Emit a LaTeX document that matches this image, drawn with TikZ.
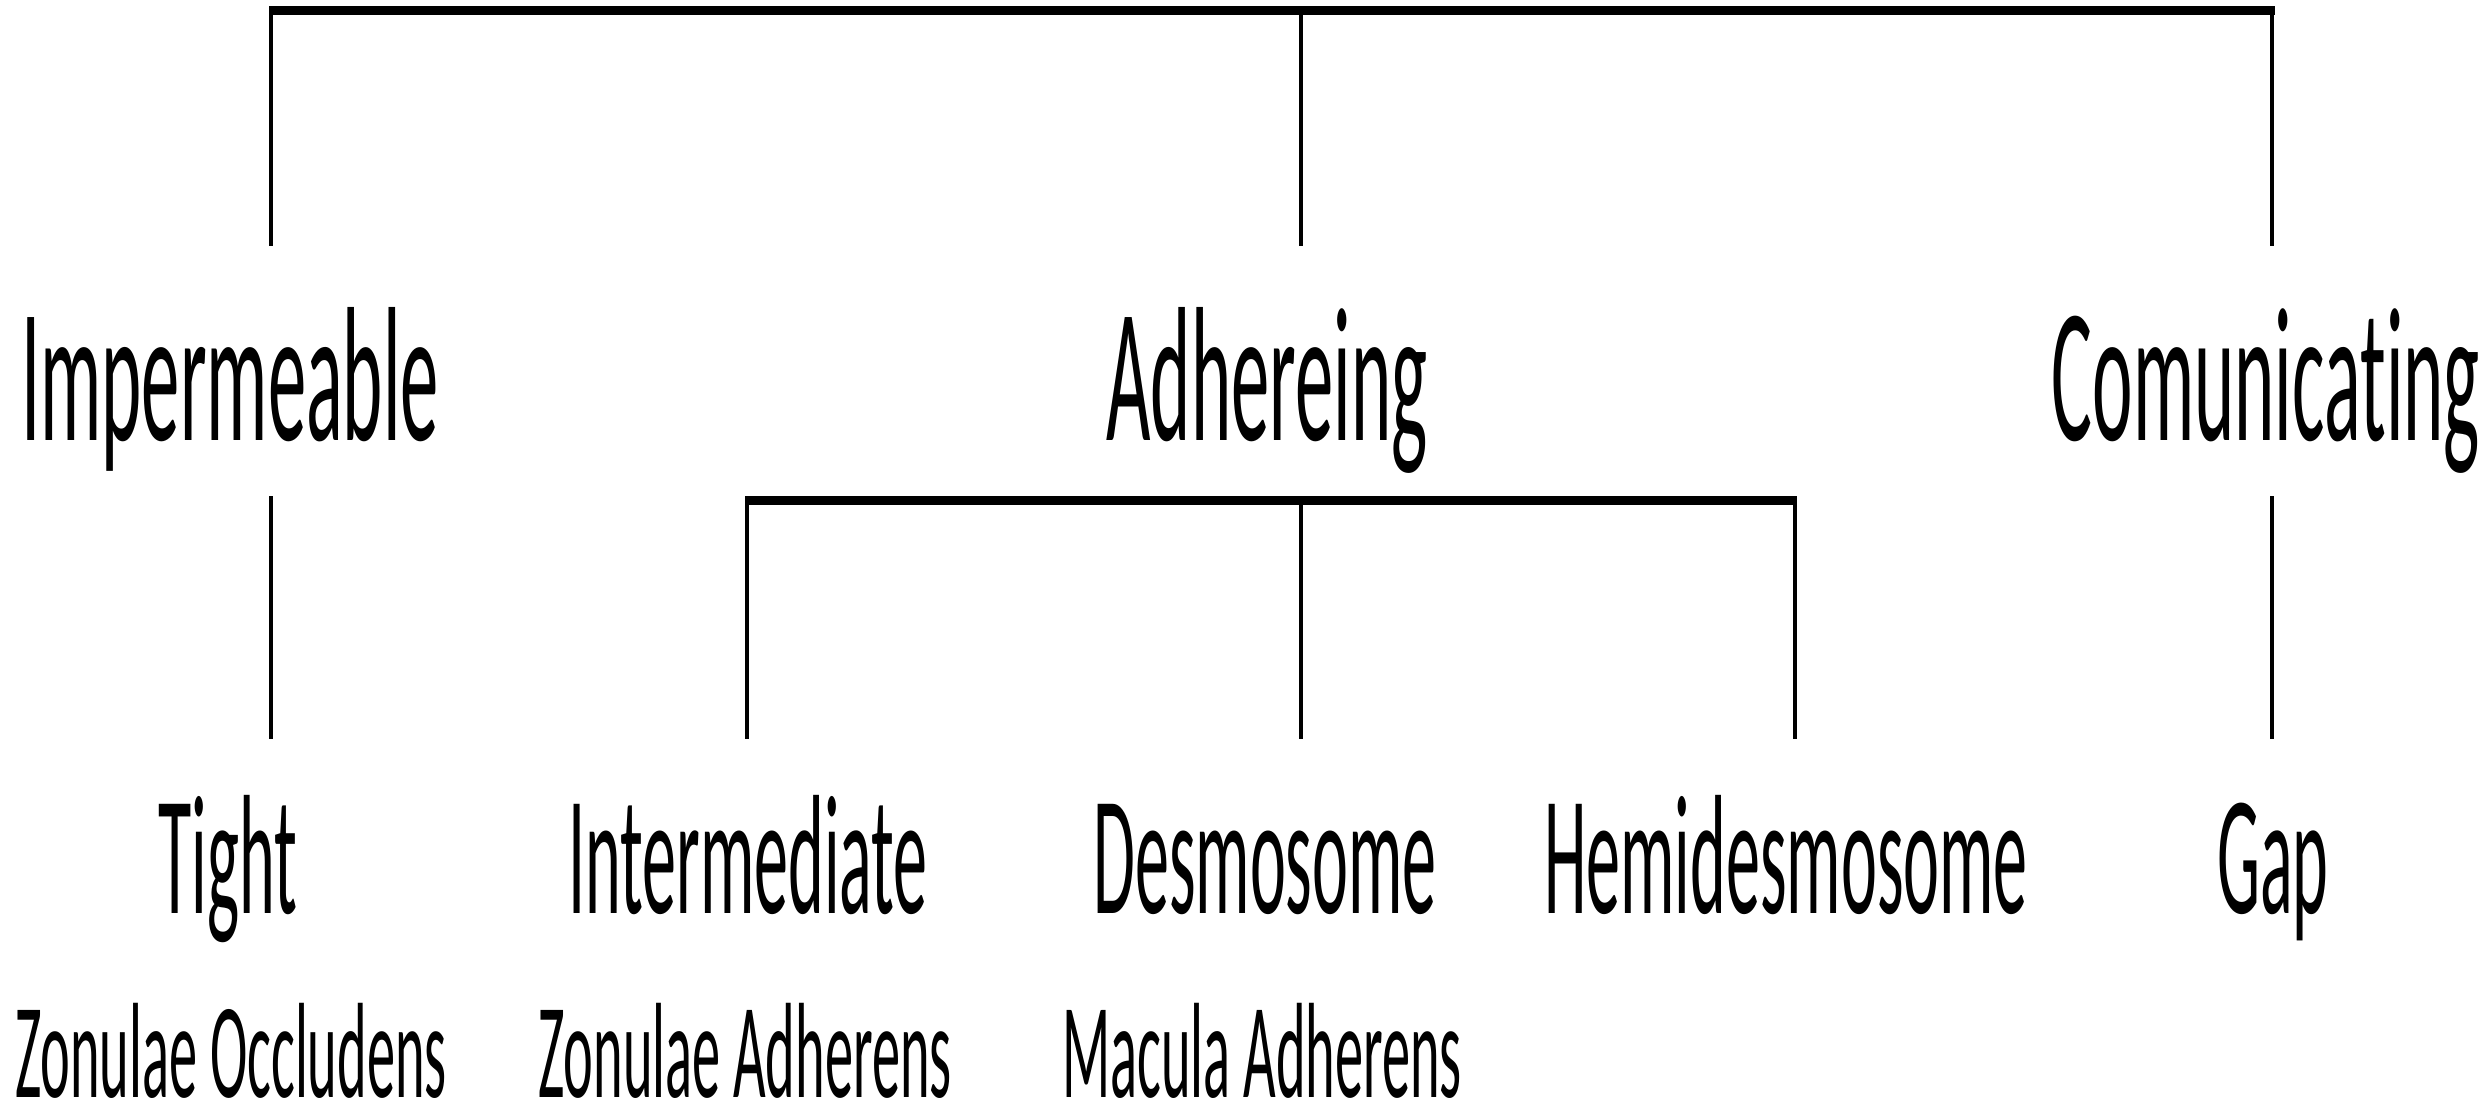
\documentclass[tikz,border=0pt]{standalone}
\usepackage{fontspec}
\newfontfamily\cf[FakeStretch=0.4,Ligatures={NoCommon}]{Carlito}
\newfontfamily\cfc[FakeStretch=0.415,Ligatures={NoCommon}]{Carlito}
\begin{document}
\begin{tikzpicture}[x=0.01cm,y=-0.01cm,
  bar/.style={line width=0.09cm},
  stem/.style={line width=0.04cm},
  lvlA/.style={inner sep=0pt,anchor=base,font=\cf\fontsize{54.5pt}{60pt}\selectfont},
  lvlB/.style={inner sep=0pt,anchor=base,font=\cf\fontsize{48.4pt}{54pt}\selectfont},
  lvlC/.style={inner sep=0pt,anchor=base,font=\cfc\fontsize{38.6pt}{44pt}\selectfont}]
\useasboundingbox (0,0) rectangle (2491,1111);
% texts
\node[lvlA] (imp) at (230,440) {Impermeable};
\node[lvlA] (adh) at (1267,440) {Adhereing};
\node[lvlA] (com) at (2266,440) {Comunicating};
\node[lvlB] (tight) at (228,913) {Tight};
\node[lvlB] (inter) at (748,913) {Intermediate};
\node[lvlB] (desmo) at (1265,913) {Desmosome};
\node[lvlB] (hemi) at (1786,913) {Hemidesmosome};
\node[lvlB] (gap) at (2273,913) {Gap};
\node[lvlC] (zo) at (231,1097) {Zonulae Occludens};
\node[lvlC] (za) at (745,1097) {Zonulae Adherens};
\node[lvlC] (ma) at (1262,1097) {Macula Adherens};
% junction coordinates
\coordinate (topL) at (269,10.5);
\coordinate (topR) at (2275,10.5);
\coordinate (a1) at (271,15);
\coordinate (a2) at (1301,15);
\coordinate (a3) at (2272,15);
\coordinate (a1e) at (271,246);
\coordinate (a2e) at (1301,246);
\coordinate (a3e) at (2272,246);
\coordinate (midL) at (745,500.5);
\coordinate (midR) at (1797,500.5);
\coordinate (b1) at (747,505);
\coordinate (b2) at (1301,505);
\coordinate (b3) at (1795,505);
\coordinate (b1e) at (747,739);
\coordinate (b2e) at (1301,739);
\coordinate (b3e) at (1795,739);
\coordinate (c1) at (271,496);
\coordinate (c1e) at (271,739);
\coordinate (c3) at (2272,496);
\coordinate (c3e) at (2272,739);
% connectors
\draw[bar] (topL) -- (topR);
\draw[stem] (a1) -- (a1e);
\draw[stem] (a2) -- (a2e);
\draw[stem] (a3) -- (a3e);
\draw[bar] (midL) -- (midR);
\draw[stem] (b1) -- (b1e);
\draw[stem] (b2) -- (b2e);
\draw[stem] (b3) -- (b3e);
\draw[stem] (c1) -- (c1e);
\draw[stem] (c3) -- (c3e);
\end{tikzpicture}
\end{document}
